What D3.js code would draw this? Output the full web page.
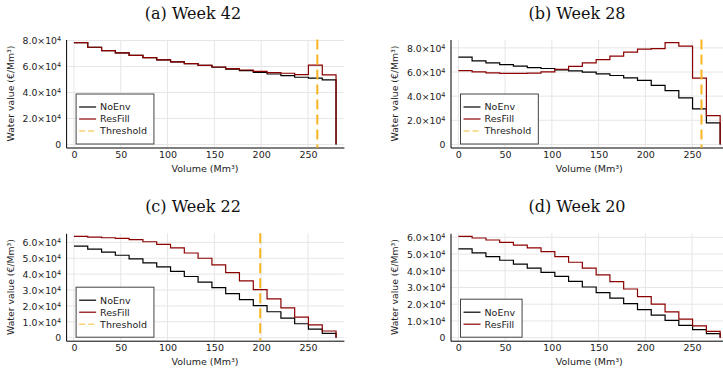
<!DOCTYPE html>
<html>
<head>
<meta charset="utf-8">
<script src="https://cdn.jsdelivr.net/npm/d3@7"></script>
<style>
  body { margin: 0; background: #fff; }
  svg { display: block; font-family: "DejaVu Sans", sans-serif; }
  .title { font-family: "DejaVu Serif", serif; font-size: 16px; }
</style>
</head>
<body>
<svg id="chart" width="723" height="370"></svg>
<script>
// Reservoir volume at each step start (Mm3); last point closes the curve
var volume = [0, 14.7, 29.5, 44.2, 58.9, 73.7, 88.4, 103.2, 117.9, 132.6,
              147.4, 162.1, 176.8, 191.6, 206.3, 221.1, 235.8, 250.5, 265.3, 280];

// Water values (EUR/Mm3) per week and strategy
var week42NoEnv   = [78400, 74800, 72200, 70400, 68600, 66800, 65000, 63500, 62200, 60900,
                     59400, 58000, 56800, 55500, 54200, 52900, 51700, 51100, 49700, 0];
var week42ResFill = [78400, 74800, 72200, 70400, 68600, 66800, 65000, 63500, 62200, 60900,
                     59600, 58400, 57300, 56300, 55300, 54800, 53800, 61000, 53600, 0];

var week28NoEnv   = [72300, 69200, 67600, 66200, 64800, 63700, 62900, 61800, 61000, 59900,
                     58500, 57100, 55200, 53000, 49000, 44500, 38500, 29500, 17800, 0];
var week28ResFill = [61200, 60100, 59300, 58800, 58800, 59000, 60100, 62300, 64600, 67600,
                     70300, 73100, 76400, 78900, 79400, 84400, 81500, 55000, 23800, 0];

var week22NoEnv   = [57700, 55800, 53800, 51900, 49600, 47100, 44600, 41700, 38500, 35000,
                     31500, 27700, 24000, 20200, 16300, 12300, 8750, 5400, 2700, 0];
var week22ResFill = [63800, 63300, 62900, 62500, 61700, 60400, 58800, 56500, 53300, 50000,
                     45800, 41000, 35800, 30200, 24400, 18800, 12900, 8100, 4200, 0];

var week20NoEnv   = [53100, 50700, 48500, 46300, 44000, 41600, 39000, 36600, 33700, 30300,
                     26900, 23600, 20400, 16800, 13500, 10300, 7300, 4800, 2400, 0];
var week20ResFill = [60600, 59600, 58400, 57000, 55400, 53700, 51500, 48500, 45100, 41600,
                     37600, 33500, 29100, 24600, 20000, 15400, 11100, 7100, 3800, 0];

var xTicks = [0, 50, 100, 150, 200, 250];
var yTicksTop = [0, 20000, 40000, 60000, 80000];
var yTicksBottom = [0, 10000, 20000, 30000, 40000, 50000, 60000];

var seriesNames = ["NoEnv", "ResFill", "Threshold"];
var colors = { NoEnv: "#000000", ResFill: "#8b0000", Threshold: "#f9b51f" };

var panels = [
    { title: "(a) Week 42", titleX: 193, titleY: 19, left: 66.1, top: 39.5, width: 277.8, height: 108,
      noEnv: week42NoEnv, resFill: week42ResFill, threshold: 260, yTicks: yTicksTop, ylabX: 11 },
    { title: "(b) Week 28", titleX: 577, titleY: 19, left: 450.5, top: 39.5, width: 277.5, height: 108,
      noEnv: week28NoEnv, resFill: week28ResFill, threshold: 260, yTicks: yTicksTop, ylabX: 395 },
    { title: "(c) Week 22", titleX: 193, titleY: 212, left: 66.1, top: 233.3, width: 277.8, height: 107.4,
      noEnv: week22NoEnv, resFill: week22ResFill, threshold: 199, yTicks: yTicksBottom, ylabX: 11 },
    { title: "(d) Week 20", titleX: 577, titleY: 212, left: 450.5, top: 233.3, width: 277.5, height: 107.4,
      noEnv: week20NoEnv, resFill: week20ResFill, threshold: null, yTicks: yTicksBottom, ylabX: 395 }
];

var svg = d3.select("#chart");
svg.append("rect").attr("width", 723).attr("height", 370).attr("fill", "#fff");

// Plots.jl style 3% padding on each side
function widen(ext) {
    var pad = (ext[1] - ext[0]) * 0.03;
    return [ext[0] - pad, ext[1] + pad];
}

panels.forEach(function(p) {
    var x = d3.scaleLinear()
        .domain(widen(d3.extent(volume)))
        .range([p.left, p.left + p.width]);
    var allVals = p.noEnv.concat(p.resFill);
    var y = d3.scaleLinear()
        .domain(widen([0, d3.max(allVals)]))
        .range([p.top + p.height, p.top]);

    var g = svg.append("g");

    // title
    g.append("text").attr("class", "title")
        .attr("x", p.titleX).attr("y", p.titleY)
        .attr("text-anchor", "middle").attr("fill", "#111")
        .text(p.title);

    // grid
    g.append("g").selectAll("line").data(xTicks).join("line")
        .attr("x1", function(d) { return x(d); }).attr("x2", function(d) { return x(d); })
        .attr("y1", p.top).attr("y2", p.top + p.height)
        .attr("stroke", "#e6e6e6").attr("stroke-width", 1);
    g.append("g").selectAll("line").data(p.yTicks).join("line")
        .attr("x1", p.left).attr("x2", p.left + p.width)
        .attr("y1", function(d) { return y(d); }).attr("y2", function(d) { return y(d); })
        .attr("stroke", "#e6e6e6").attr("stroke-width", 1);

    // axes
    var xAxis = d3.axisBottom(x).tickValues(xTicks).tickSize(0).tickPadding(4);
    var xg = g.append("g").attr("transform", "translate(0," + (p.top + p.height) + ")").call(xAxis);
    xg.select(".domain").attr("stroke", "#000");
    xg.selectAll("text").attr("font-size", 9.5).attr("fill", "#222")
        .attr("font-family", "DejaVu Sans");

    var yAxis = d3.axisLeft(y).tickValues(p.yTicks).tickSize(0).tickPadding(5).tickFormat("");
    var yg = g.append("g").attr("transform", "translate(" + p.left + ",0)").call(yAxis);
    yg.select(".domain").attr("stroke", "#000");
    yg.selectAll(".tick text").each(function(d) {
        var t = d3.select(this)
            .attr("font-size", 9.3).attr("fill", "#222").attr("font-family", "DejaVu Sans")
            .attr("dy", "0.35em");
        if (d === 0) {
            t.text("0");
        } else {
            t.text((d / 10000).toFixed(1) + "\u00d710");
            t.append("tspan").attr("font-size", 6.5).attr("dy", "-0.45em").text("4");
        }
    });

    // axis titles
    g.append("text")
        .attr("x", (x(280) + x(0)) / 2)
        .attr("y", p.top + p.height + 24)
        .attr("text-anchor", "middle").attr("font-size", 9.5).attr("fill", "#222")
        .text("Volume (Mm\u00b3)");
    g.append("text")
        .attr("transform", "translate(" + p.ylabX + "," + (p.top + p.height / 2) + ") rotate(-90)")
        .attr("text-anchor", "middle").attr("dy", "0.35em").attr("font-size", 9.3).attr("fill", "#222")
        .text("Water value (\u20ac/Mm\u00b3)");

    // series
    var line = d3.line()
        .x(function(d) { return x(d[0]); })
        .y(function(d) { return y(d[1]); })
        .curve(d3.curveStepAfter);

    var seriesG = g.append("g");
    seriesG.append("path")
        .attr("d", line(d3.zip(volume, p.noEnv)))
        .attr("fill", "none").attr("stroke", colors.NoEnv).attr("stroke-width", 1.2);
    seriesG.append("path")
        .attr("d", line(d3.zip(volume, p.resFill)))
        .attr("fill", "none").attr("stroke", colors.ResFill).attr("stroke-width", 1.2);

    if (p.threshold !== null) {
        seriesG.append("line")
            .attr("x1", x(p.threshold)).attr("x2", x(p.threshold))
            .attr("y1", p.top).attr("y2", p.top + p.height)
            .attr("stroke", colors.Threshold).attr("stroke-width", 2)
            .attr("stroke-dasharray", "10,5");
    }

    // legend
    var names = p.threshold !== null ? seriesNames : seriesNames.slice(0, 2);
    var lg = g.append("g");
    var lx = p.left + 10;
    var rowH = 12;
    var boxH = names.length * rowH + 14;
    var ly = p.top + p.height - 3.5 - boxH;
    var box = lg.append("rect")
        .attr("x", lx).attr("y", ly).attr("height", boxH)
        .attr("fill", "#fff").attr("stroke", "#444").attr("stroke-width", 1);
    var maxW = 0;
    names.forEach(function(n, i) {
        var cy = ly + 13 + i * rowH;
        lg.append("line")
            .attr("x1", lx + 3).attr("x2", lx + 20)
            .attr("y1", cy).attr("y2", cy)
            .attr("stroke", colors[n])
            .attr("stroke-width", n === "Threshold" ? 1.6 : 1.2)
            .attr("stroke-dasharray", n === "Threshold" ? "6,3" : null)
            .attr("opacity", n === "Threshold" ? 0.6 : 1);
        var t = lg.append("text")
            .attr("x", lx + 24).attr("y", cy).attr("dy", "0.35em")
            .attr("font-size", 9.5).attr("fill", "#222").text(n);
        maxW = Math.max(maxW, t.node().getComputedTextLength());
    });
    box.attr("width", 24 + maxW + 7);
});
</script>
</body>
</html>
